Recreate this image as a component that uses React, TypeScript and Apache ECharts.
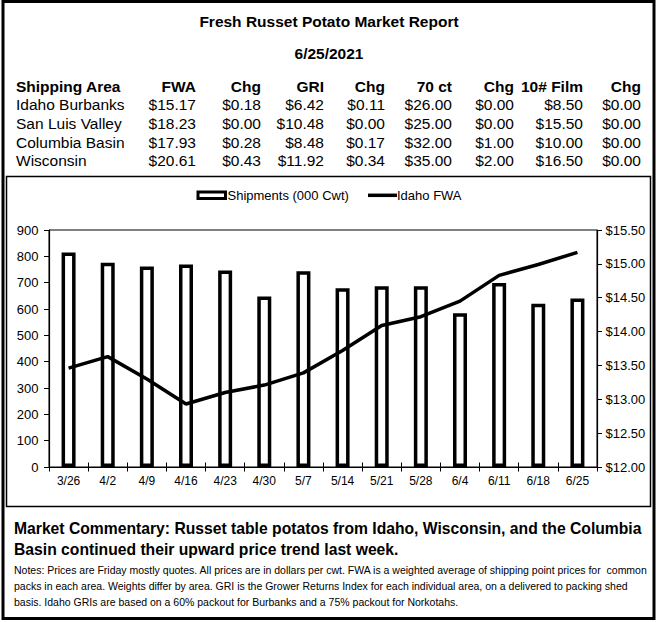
import React, { useEffect, useRef } from "react";
import * as echarts from "echarts";

const title = "Fresh Russet Potato Market Report";
const reportDate = "6/25/2021";
const tableHeaders = ["Shipping Area", "FWA", "Chg", "GRI", "Chg", "70 ct", "Chg", "10# Film", "Chg"];
const areas = ["Idaho Burbanks", "San Luis Valley", "Columbia Basin", "Wisconsin"];
const fwa = [15.17, 18.23, 17.93, 20.61];
const fwaChg = [0.18, 0.0, 0.28, 0.43];
const gri = [6.42, 10.48, 8.48, 11.92];
const griChg = [0.11, 0.0, 0.17, 0.34];
const ct70 = [26.0, 25.0, 32.0, 35.0];
const ct70Chg = [0.0, 0.0, 1.0, 2.0];
const film10 = [8.5, 15.5, 10.0, 16.5];
const film10Chg = [0.0, 0.0, 0.0, 0.0];

const weeks = ["3/26", "4/2", "4/9", "4/16", "4/23", "4/30", "5/7", "5/14", "5/21", "5/28", "6/4", "6/11", "6/18", "6/25"];
const shipments = [815, 776, 761, 769, 746, 647, 743, 679, 686, 686, 584, 699, 620, 640];
const idahoFwa = [13.46, 13.63, 13.3, 12.93, 13.1, 13.21, 13.39, 13.72, 14.09, 14.22, 14.45, 14.83, 14.99, 15.17];
const seriesNames = ["Shipments (000 Cwt)", "Idaho FWA"];

const commentary = [
  "Market Commentary: Russet table potatos from Idaho, Wisconsin, and the Columbia",
  "Basin continued their upward price trend last week.",
];
const notes = [
  "Notes: Prices are Friday mostly quotes. All prices are in dollars per cwt. FWA is a weighted average of shipping point prices for  common",
  "packs in each area. Weights differ by area. GRI is the Grower Returns Index for each individual area, on a delivered to packing shed",
  "basis. Idaho GRIs are based on a 60% packout for Burbanks and a 75% packout for Norkotahs.",
];

const FONT = "'Liberation Sans', Arial, sans-serif";
const money = (v: number) => "$" + v.toFixed(2);

export default function App() {
  const ref = useRef<HTMLDivElement>(null);
  useEffect(() => {
    document.body.style.margin = "0";
    const chart = echarts.init(ref.current!, undefined, { renderer: "svg" });

    const colRight = [0, 196, 261, 324, 385, 452, 514, 583, 641];
    const rowY = [104.5, 123, 142, 160.5];
    const headerY = 86;
    const columns = [fwa, fwaChg, gri, griChg, ct70, ct70Chg, film10, film10Chg];

    const g: any[] = [];
    g.push({
      type: "rect",
      shape: { x: 3, y: 1.5, width: 651, height: 617 },
      style: { fill: "none", stroke: "#000", lineWidth: 3 },
      silent: true,
    });
    g.push({
      type: "rect",
      shape: { x: 6.5, y: 176.5, width: 644, height: 330 },
      style: { fill: "none", stroke: "#000", lineWidth: 1.5 },
      silent: true,
    });
    g.push({
      type: "text",
      style: { text: title, x: 329, y: 21, font: `bold 15.5px ${FONT}`, fill: "#000", textAlign: "center", textVerticalAlign: "middle" },
    });
    g.push({
      type: "text",
      style: { text: reportDate, x: 329, y: 53, font: `bold 15.5px ${FONT}`, fill: "#000", textAlign: "center", textVerticalAlign: "middle" },
    });
    tableHeaders.forEach((h, i) => {
      g.push({
        type: "text",
        style: {
          text: h,
          x: i === 0 ? 16 : colRight[i],
          y: headerY,
          font: `bold 15.5px ${FONT}`,
          fill: "#000",
          textAlign: i === 0 ? "left" : "right",
          textVerticalAlign: "middle",
        },
      });
    });
    areas.forEach((a, r) => {
      g.push({
        type: "text",
        style: { text: a, x: 16, y: rowY[r], font: `15.5px ${FONT}`, fill: "#000", textAlign: "left", textVerticalAlign: "middle" },
      });
      columns.forEach((col, c) => {
        g.push({
          type: "text",
          style: {
            text: money(col[r]),
            x: colRight[c + 1],
            y: rowY[r],
            font: `15.5px ${FONT}`,
            fill: "#000",
            textAlign: "right",
            textVerticalAlign: "middle",
          },
        });
      });
    });
    // legend
    g.push({
      type: "rect",
      shape: { x: 198, y: 192, width: 27.5, height: 6.5 },
      style: { fill: "#fff", stroke: "#000", lineWidth: 3 },
    });
    g.push({
      type: "text",
      style: { text: seriesNames[0], x: 227.5, y: 195.5, font: `13px ${FONT}`, fill: "#000", textAlign: "left", textVerticalAlign: "middle" },
    });
    g.push({
      type: "line",
      shape: { x1: 368, y1: 195.3, x2: 397, y2: 195.3 },
      style: { stroke: "#000", lineWidth: 3.5 },
    });
    g.push({
      type: "text",
      style: { text: seriesNames[1], x: 397, y: 195.5, font: `13px ${FONT}`, fill: "#000", textAlign: "left", textVerticalAlign: "middle" },
    });
    commentary.forEach((t, i) => {
      g.push({
        type: "text",
        style: { text: t, x: 14, y: 528 + i * 21, font: `bold 15.7px ${FONT}`, fill: "#000", textAlign: "left", textVerticalAlign: "middle" },
      });
    });
    notes.forEach((t, i) => {
      g.push({
        type: "text",
        style: { text: t, x: 14, y: 569.5 + i * 16, font: `10.5px ${FONT}`, fill: "#000", textAlign: "left", textVerticalAlign: "middle" },
      });
    });

    chart.setOption({
      animation: false,
      backgroundColor: "#fff",
      textStyle: { fontFamily: FONT, color: "#000" },
      grid: {
        left: 49,
        right: 61,
        top: 230,
        bottom: 155,
        show: true,
        borderColor: "#000",
        borderWidth: 1,
        containLabel: false,
      },
      xAxis: [
        {
          type: "category",
          data: weeks,
          boundaryGap: true,
          position: "bottom",
          axisLine: { lineStyle: { color: "#000", width: 1.2 } },
          axisTick: { show: true, length: 4.5, lineStyle: { color: "#000" } },
          axisLabel: { color: "#000", fontSize: 12, margin: 7.5, fontFamily: FONT },
        },
        {
          type: "category",
          data: weeks,
          boundaryGap: true,
          position: "bottom",
          offset: 0,
          axisLine: { show: false },
          axisTick: { show: true, inside: true, length: 4.5, lineStyle: { color: "#000" } },
          axisLabel: { show: false },
        },
      ],
      yAxis: [
        {
          type: "value",
          min: 0,
          max: 900,
          interval: 100,
          splitLine: { show: false },
          axisLine: { show: true, lineStyle: { color: "#000", width: 1.2 } },
          axisTick: { show: true, length: 5, lineStyle: { color: "#000" } },
          axisLabel: { color: "#000", fontSize: 13, margin: 10.5, fontFamily: FONT },
        },
        {
          type: "value",
          min: 12,
          max: 15.5,
          interval: 0.5,
          splitLine: { show: false },
          axisLine: { show: true, lineStyle: { color: "#000", width: 1.2 } },
          axisTick: { show: true, length: 5, lineStyle: { color: "#000" } },
          axisLabel: { color: "#000", fontSize: 13, margin: 8.5, fontFamily: FONT, formatter: (v: number) => money(v) },
        },
      ],
      series: [
        {
          name: seriesNames[0],
          type: "bar",
          data: shipments,
          barWidth: 14,
          itemStyle: { color: "#fff", borderColor: "#000", borderWidth: 3.5 },
        },
        {
          name: seriesNames[1],
          type: "line",
          yAxisIndex: 1,
          data: idahoFwa,
          symbol: "none",
          lineStyle: { color: "#000", width: 3.5 },
          itemStyle: { color: "#000" },
        },
      ],
      graphic: g,
    });
    return () => chart.dispose();
  }, []);
  return <div ref={ref} style={{ position: "absolute", left: 0, top: 0, width: 658, height: 622 }} />;
}
